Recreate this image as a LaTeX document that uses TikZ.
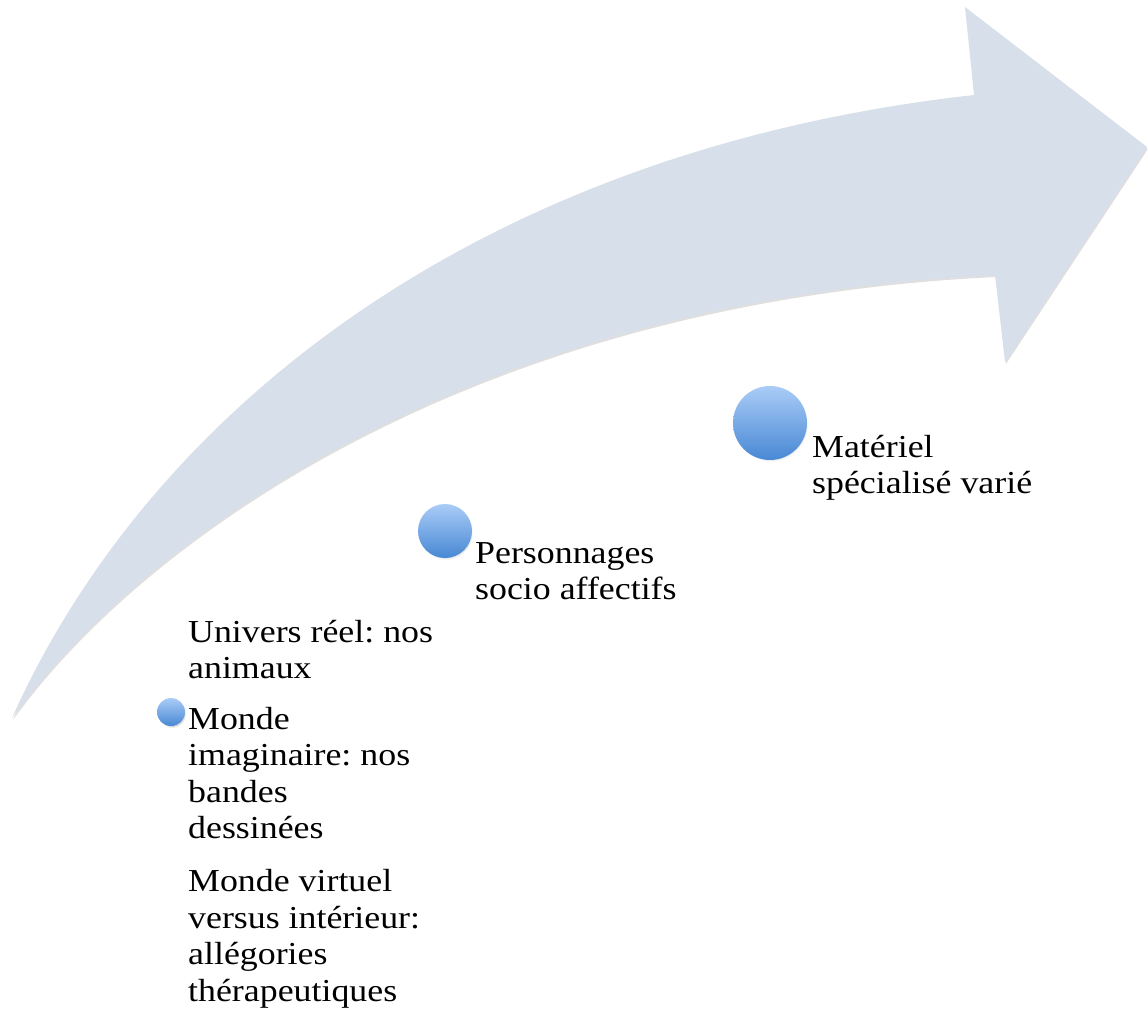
\documentclass[tikz,border=0pt]{standalone}
\usepackage{fontspec}
\setmainfont[FakeStretch=1.12]{Liberation Serif}
\usepackage{tikz}
\usetikzlibrary{shadows}

\definecolor{arrowfill}{RGB}{215,223,234}
\definecolor{dottop}{RGB}{170,204,247}
\definecolor{dotbot}{RGB}{72,136,212}

\begin{document}
\frenchspacing
\begin{tikzpicture}[x=1pt, y=-1pt,
    body/.style={fill=arrowfill, draw=none, drop shadow={shadow xshift=1pt, shadow yshift=-2pt, opacity=.25}},
    dot/.style={circle, inner sep=0pt, top color=dottop, bottom color=dotbot, draw=none, circular drop shadow={shadow xshift=1pt, shadow yshift=-2pt, opacity=.3, shadow scale=1}},
    item/.style={anchor=base west, inner sep=0pt, align=left, font=\fontsize{32}{36.5}\selectfont}]

    \useasboundingbox (0,0) rectangle (1147,1015);

    % curved arrow
    \path[body] (12,718) .. controls (150,410) and (480,150) .. (974,95)
        -- (965,7) -- (1147,147) -- (1005,362) -- (995,275)
        .. controls (470,300) and (140,540) .. (12,718) -- cycle;

    % dots
    \node[dot, minimum size=74pt] (dotc) at (770,423) {};
    \node[dot, minimum size=54pt] (dotb) at (445,531) {};
    \node[dot, minimum size=28pt] (dota) at (171,712) {};

    % texts (placed at the baseline of their last line)
    \node[item] (mat) at (812,493.5) {Matériel\\spécialisé varié};
    \node[item] (pers) at (475,599.5) {Personnages\\socio affectifs};
    \node[item] (univ) at (188,678.5) {Univers réel: nos\\animaux};
    \node[item] (imag) at (188,838.5) {Monde\\imaginaire: nos\\bandes\\dessinées};
    \node[item] (virt) at (188,1001) {Monde virtuel\\versus intérieur:\\allégories\\thérapeutiques};
\end{tikzpicture}
\end{document}
